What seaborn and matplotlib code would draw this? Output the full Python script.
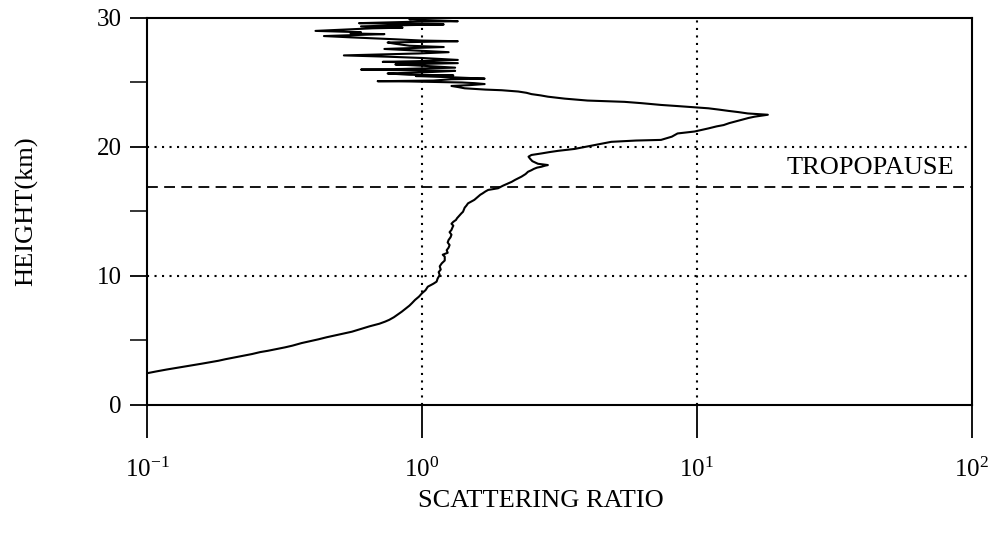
import matplotlib
matplotlib.use("Agg")
import matplotlib.pyplot as plt
import seaborn as sns
import pandas as pd
from matplotlib.ticker import FixedLocator, NullLocator

# Lidar backscatter profile, (height km, scattering ratio) pairs by layer
lower_troposphere = [
    (2.46, 0.100), (2.6, 0.108), (2.75, 0.118), (2.9, 0.130), (3.05, 0.143),
    (3.2, 0.158), (3.43, 0.182), (3.55, 0.193), (3.7, 0.210), (3.95, 0.241),
    (4.1, 0.258), (4.2, 0.275), (4.47, 0.318), (4.6, 0.338), (4.8, 0.365),
    (5.09, 0.420), (5.25, 0.450), (5.4, 0.485), (5.68, 0.556), (5.9, 0.600),
    (6.1, 0.645), (6.3, 0.700), (6.46, 0.734), (6.6, 0.760), (6.8, 0.790),
    (7.0, 0.815), (7.23, 0.844), (7.45, 0.870), (7.7, 0.900), (7.9, 0.920),
    (8.14, 0.943), (8.4, 0.975), (8.66, 1.00), (8.9, 1.03), (9.17, 1.05),
    (9.4, 1.10), (9.56, 1.13), (9.8, 1.14), (10.08, 1.16),
]
upper_troposphere = [
    (10.3, 1.15), (10.5, 1.17), (10.75, 1.16), (10.98, 1.18), (11.2, 1.21),
    (11.5, 1.21), (11.65, 1.19), (11.8, 1.24), (12.0, 1.23), (12.2, 1.25),
    (12.4, 1.26), (12.6, 1.24), (12.8, 1.25), (13.0, 1.27), (13.2, 1.28),
    (13.4, 1.26), (13.57, 1.28), (13.75, 1.29), (13.9, 1.30), (14.05, 1.28),
    (14.2, 1.30), (14.35, 1.33), (14.47, 1.34), (14.7, 1.37), (14.85, 1.39),
    (14.98, 1.41), (15.15, 1.42), (15.3, 1.43), (15.45, 1.45), (15.63, 1.47),
    (15.8, 1.52), (15.9, 1.55), (16.05, 1.58), (16.15, 1.60), (16.3, 1.63),
    (16.4, 1.66), (16.55, 1.70), (16.67, 1.74), (16.8, 1.89),
]
lower_stratosphere = [
    (16.9, 1.93), (17.0, 1.97), (17.18, 2.06), (17.3, 2.12), (17.45, 2.18),
    (17.6, 2.25), (17.7, 2.30), (17.9, 2.38), (18.08, 2.43), (18.2, 2.50),
    (18.3, 2.55), (18.4, 2.62), (18.47, 2.72), (18.55, 2.80), (18.6, 2.87),
    (18.7, 2.64), (18.9, 2.52), (19.1, 2.47), (19.25, 2.44), (19.38, 2.50),
    (19.5, 2.72), (19.6, 2.90), (19.7, 3.12), (19.85, 3.59), (20.0, 3.90),
    (20.15, 4.24), (20.3, 4.60), (20.4, 4.88), (20.45, 5.40), (20.5, 6.00),
    (20.55, 7.40), (20.7, 7.80), (20.8, 8.10), (21.05, 8.50), (21.2, 9.80),
    (21.3, 10.3), (21.44, 11.0), (21.6, 11.8), (21.7, 12.5), (21.85, 13.1),
    (21.96, 13.7), (22.1, 14.5), (22.25, 15.4), (22.35, 16.2), (22.5, 18.1),
    (22.6, 15.3), (22.7, 14.2), (22.8, 13.0), (22.9, 12.0), (23.0, 11.0),
    (23.1, 9.50), (23.18, 8.40), (23.26, 7.40), (23.33, 6.80), (23.4, 6.27),
    (23.5, 5.45), (23.6, 4.00), (23.75, 3.30), (23.9, 2.87), (24.0, 2.70),
    (24.1, 2.50), (24.2, 2.40), (24.3, 2.24), (24.4, 1.95), (24.45, 1.70),
    (24.55, 1.43), (24.65, 1.35), (24.73, 1.28), (24.8, 1.50), (24.88, 1.69),
]
middle_stratosphere = [
    (24.95, 1.55), (25.0, 1.40), (25.08, 0.90), (25.1, 0.69), (25.15, 1.10),
    (25.25, 1.28), (25.3, 1.69), (25.4, 1.30), (25.5, 0.95), (25.55, 1.30),
    (25.6, 0.90), (25.7, 0.75), (25.8, 1.05), (25.9, 1.32), (26.0, 0.60),
    (26.05, 0.85), (26.15, 1.32), (26.3, 1.00), (26.4, 0.80), (26.5, 1.35),
    (26.6, 0.72), (26.65, 0.95), (26.75, 1.35), (26.9, 1.00), (27.0, 0.75),
    (27.1, 0.52), (27.2, 0.80), (27.25, 0.97), (27.35, 1.25), (27.5, 0.90),
    (27.6, 0.73), (27.7, 1.00), (27.75, 1.20), (27.85, 0.90), (28.0, 0.80),
    (28.1, 0.75), (28.2, 1.35), (28.25, 1.00), (28.35, 0.80), (28.5, 0.55),
    (28.6, 0.44), (28.75, 0.73), (28.8, 0.55), (28.9, 0.60), (29.0, 0.41),
    (29.1, 0.52), (29.2, 0.66), (29.25, 0.85), (29.35, 0.60), (29.45, 0.90),
    (29.5, 1.20), (29.6, 0.59), (29.7, 0.90), (29.75, 1.35), (29.85, 1.00),
    (29.9, 0.90), (30.0, 1.00),
]

tropopause_km = 16.9
x_ticks = [0.1, 1, 10, 100]
y_ticks_major = [0, 10, 20, 30]
y_ticks_minor = [5, 15, 25]

layers = lower_troposphere + upper_troposphere + lower_stratosphere + middle_stratosphere
profile = pd.DataFrame(layers, columns=["height", "ratio"])

sns.set_theme(style="white")
plt.rcParams["font.family"] = ["Liberation Serif", "DejaVu Serif"]
plt.rcParams["mathtext.fontset"] = "custom"
plt.rcParams["mathtext.rm"] = "Liberation Serif"
plt.rcParams["mathtext.it"] = "Liberation Serif:italic"

fig = plt.figure(figsize=(10.04, 5.34), dpi=100)
ax = fig.add_axes([0.1464, 0.2416, 0.8217, 0.7247])

sns.lineplot(data=profile, x="ratio", y="height", sort=False, estimator=None,
             color="black", linewidth=1.5, ax=ax)

ax.set_xscale("log")
ax.set_xlim(0.1, 100)
ax.set_ylim(0, 30)

# reference lines
for xv in (1, 10):
    ax.axvline(xv, color="black", linestyle=(0, (1, 2.6)), linewidth=1.5, zorder=1)
for yv in (10, 20):
    ax.axhline(yv, color="black", linestyle=(0, (1, 2.6)), linewidth=1.5, zorder=1)
ax.axhline(tropopause_km, color="black", linestyle=(0, (6, 3.5)), linewidth=1.3, zorder=1)
ax.text(86, tropopause_km + 0.6, "TROPOPAUSE", ha="right", va="bottom",
        fontsize=19, color="black")

ax.xaxis.set_major_locator(FixedLocator(x_ticks))
ax.xaxis.set_minor_locator(NullLocator())
ax.yaxis.set_major_locator(FixedLocator(y_ticks_major))
ax.yaxis.set_minor_locator(FixedLocator(y_ticks_minor))

ax.tick_params(axis="x", which="major", direction="out", length=24, width=1.3,
               pad=14, labelsize=18, colors="black", bottom=True)
ax.tick_params(axis="y", which="major", direction="out", length=12, width=1.3,
               pad=6, labelsize=18, colors="black", left=True)
ax.tick_params(axis="y", which="minor", direction="out", length=12, width=1.3,
               left=True)

for side in ("left", "right", "top", "bottom"):
    ax.spines[side].set_visible(True)
    ax.spines[side].set_color("black")
    ax.spines[side].set_linewidth(1.5)

ax.set_xlabel("SCATTERING RATIO", fontsize=19, color="black")
ax.xaxis.set_label_coords(0.477, -0.22)
ax.set_ylabel("HEIGHT(km)", fontsize=19, labelpad=42, color="black")
ax.grid(False)

fig.savefig("out.png", dpi=100, facecolor="white")
